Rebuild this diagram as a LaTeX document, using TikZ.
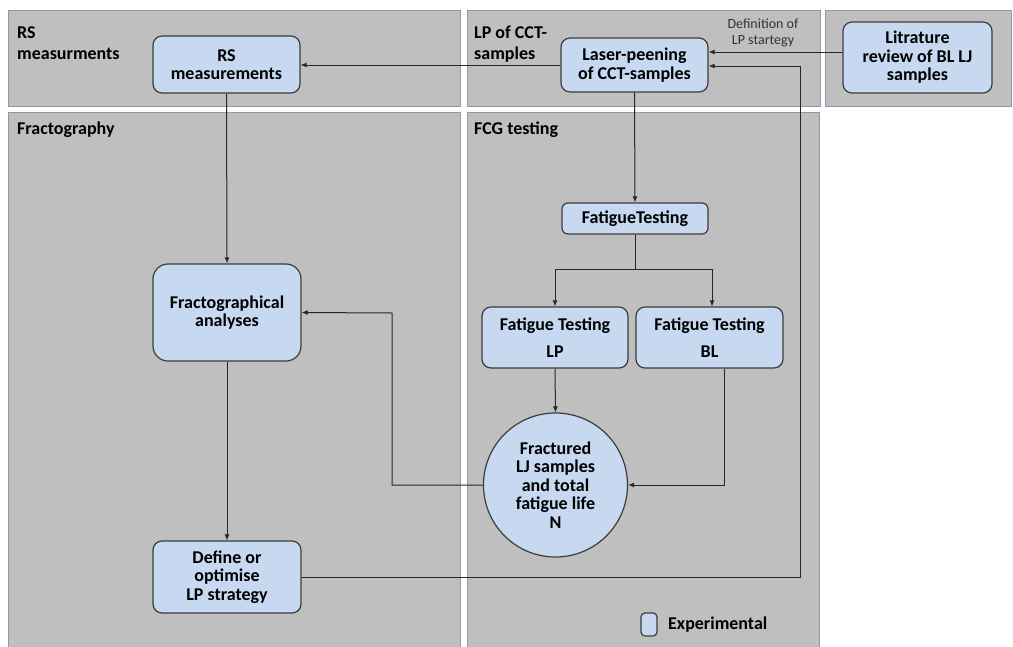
\documentclass[tikz,border=0pt]{standalone}
\usepackage{fontspec}
\setmainfont{Carlito}
\usetikzlibrary{arrows.meta}

\definecolor{panelgray}{RGB}{191,191,191}
\definecolor{paneledge}{RGB}{142,152,170}
\definecolor{boxblue}{RGB}{198,217,240}
\definecolor{boxedge}{RGB}{60,60,60}

\tikzset{
  panel/.style={fill=panelgray, draw=paneledge, line width=0.9pt},
  paneltitle/.style={anchor=base west, inner sep=0pt, font=\fontsize{18}{18.5}\selectfont\bfseries},
  proc/.style={draw=boxedge, fill=boxblue, line width=1.2pt, rounded corners=9pt,
    align=center, inner sep=0pt, font=\fontsize{18}{18.5}\selectfont\bfseries},
  link/.style={draw=black!85, line width=1pt},
  arr/.style={link, -{Latex[length=6pt,width=5pt]}},
}

\begin{document}
\begin{tikzpicture}[x=1pt,y=-1pt]
\useasboundingbox (0,0) rectangle (1013,646);
\fill[white] (0,0) rectangle (1013,646);

% swimlane panels
\draw[panel] (8,10) rectangle (460,106);
\draw[panel] (467,10) rectangle (820,106);
\draw[panel] (825,10) rectangle (1011,106);
\draw[panel] (8,112) rectangle (460,660);
\draw[panel] (467,112) rectangle (819,660);

% panel titles
\node[paneltitle] (t1a) at (17,38) {RS};
\node[paneltitle] (t1b) at (17,59) {measurments};
\node[paneltitle] (t2a) at (474,38) {LP of CCT-};
\node[paneltitle] (t2b) at (474,59) {samples};
\node[paneltitle] (t3) at (17,134) {Fractography};
\node[paneltitle] (t4) at (474,134) {FCG testing};

% process steps
\node[proc, minimum width=147pt, minimum height=57pt] (rs) at (226.5,64.5) {RS\\measurements};
\node[proc, minimum width=147pt, minimum height=54pt] (lpc) at (634.5,65) {Laser-peening\\of CCT-samples};
\node[proc, minimum width=149pt, minimum height=71pt] (lit) at (917.5,57.5) {Litrature\\review of BL LJ\\samples};
\node[proc, minimum width=146pt, minimum height=31pt, rounded corners=6pt] (fat) at (635,218.5) {FatigueTesting};
\node[proc, minimum width=146pt, minimum height=61pt] (ftlp) at (555,337.5) {Fatigue Testing\\[8.5pt]LP};
\node[proc, minimum width=147pt, minimum height=61pt] (ftbl) at (709.5,337.5) {Fatigue Testing\\[8.5pt]BL};
\node[proc, minimum width=148pt, minimum height=97pt, rounded corners=15pt] (frac) at (227,312.5) {Fractographical\\analyses};
\node[proc, circle, minimum size=144pt] (frc) at (555.5,485) {Fractured\\LJ samples\\and total\\fatigue life\\N};
\node[proc, minimum width=148pt, minimum height=72pt] (def) at (227,577) {Define or\\optimise\\LP strategy};

% legend
\node[proc, minimum width=16pt, minimum height=23pt, rounded corners=4pt] (leg) at (649,624.5) {};
\node[anchor=west, inner sep=0pt, font=\fontsize{18}{18.5}\selectfont\bfseries] (legtxt) at (668,625) {Experimental};

% helper points
\coordinate (y52) at (0,52);
\coordinate (rtop) at (800,66);
\coordinate (br) at (635,269);
\coordinate (fb) at (392,313);

% connectors
\draw[arr] (lit.west |- y52) -- (lpc.east |- y52);
\node[align=center, inner sep=0pt, font=\fontsize{14}{16}\selectfont, text=black!80] (deflab) at (763,33) {Definition of\\LP startegy};
\draw[arr] (lpc.west) -- (lpc.west -| rs.east);
\draw[arr] (def.east) -| (rtop) -- (rtop -| lpc.east);
\draw[arr] (lpc.south) -- (fat.north);
\draw[link] (fat.south) -- (br);
\draw[arr] (br) -| (ftlp.north);
\draw[arr] (br) -| ([xshift=2.5pt]ftbl.north);
\draw[arr] (ftlp.south) -- (frc.north);
\draw[arr] ([xshift=14.5pt]ftbl.south) |- (frc.east);
\draw[arr] (frc.west) -| (fb) -- (frac.east);
\draw[arr] (rs.south) -- (frac.north);
\draw[arr] (frac.south) -- (def.north);
\end{tikzpicture}
\end{document}
